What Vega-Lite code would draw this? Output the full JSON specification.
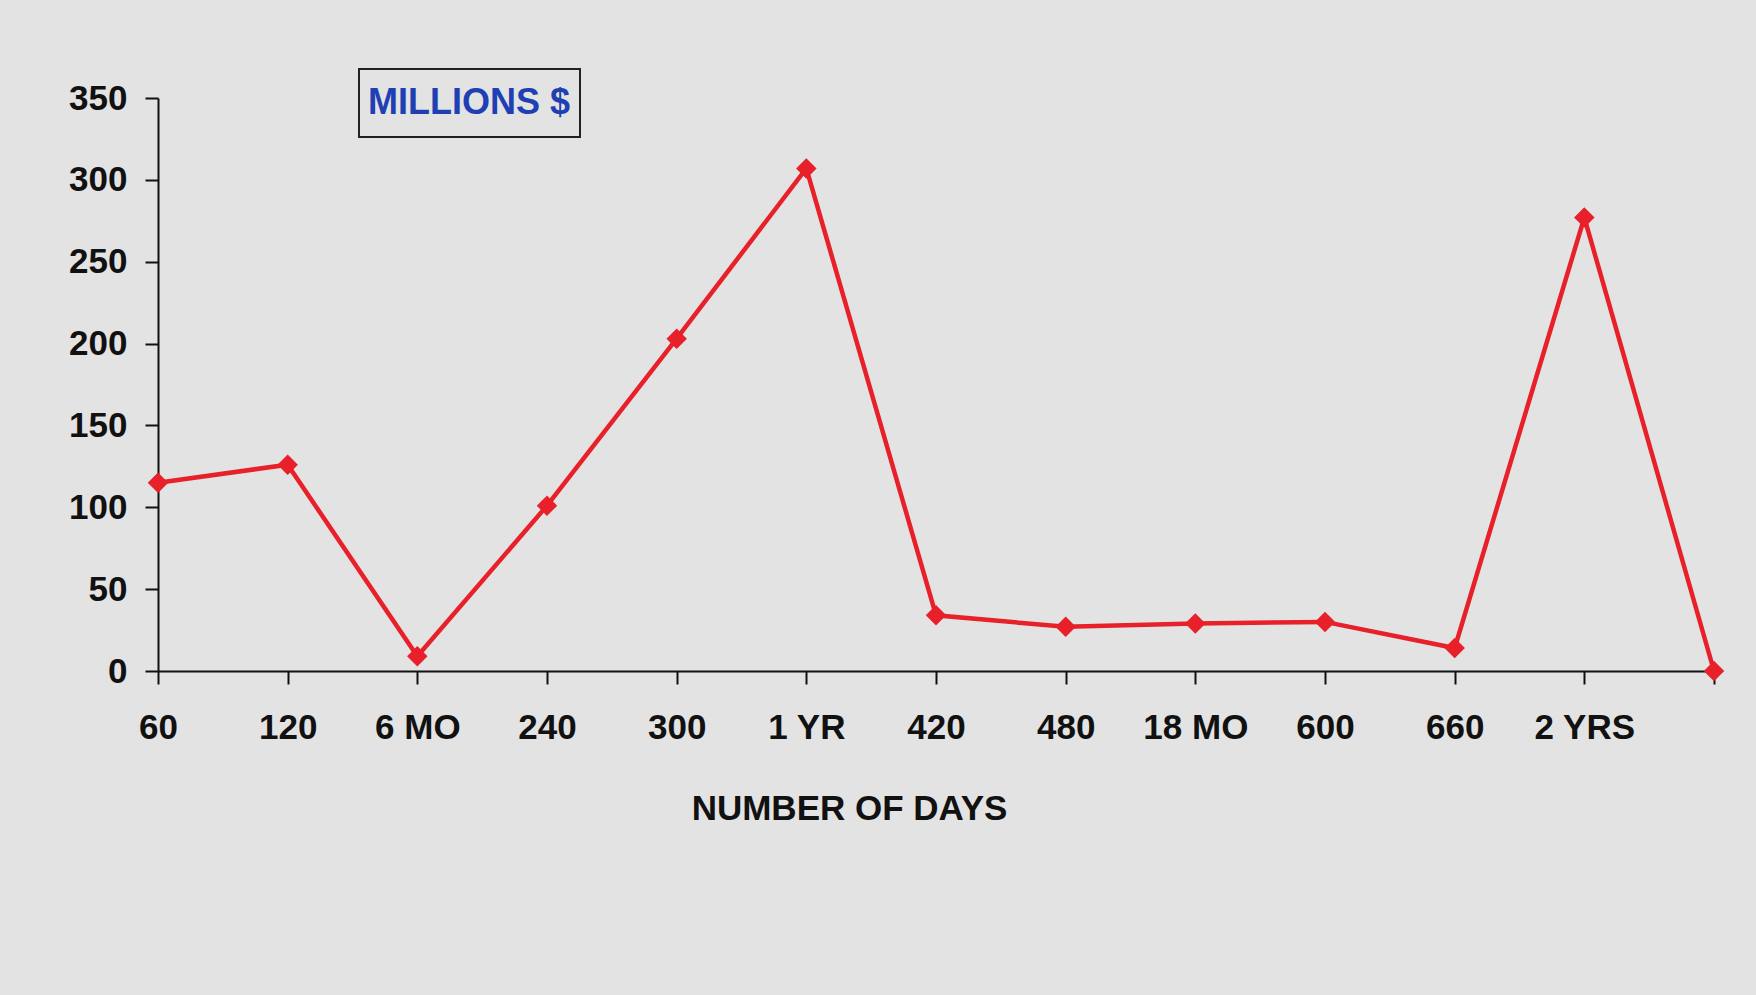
{
  "$schema": "https://vega.github.io/schema/vega-lite/v6.json",
  "autosize": "none",
  "width": 1556,
  "height": 573,
  "padding": {"left": 158, "top": 98, "right": 42, "bottom": 324},
  "background": "#e3e3e3",
  "config": {
    "view": {"stroke": null},
    "font": "Liberation Sans"
  },
  "data": {
    "values": [
      {"label": "60", "value": 115, "series": "MILLIONS $"},
      {"label": "120", "value": 126, "series": "MILLIONS $"},
      {"label": "6 MO", "value": 9, "series": "MILLIONS $"},
      {"label": "240", "value": 101, "series": "MILLIONS $"},
      {"label": "300", "value": 203, "series": "MILLIONS $"},
      {"label": "1 YR", "value": 307, "series": "MILLIONS $"},
      {"label": "420", "value": 34, "series": "MILLIONS $"},
      {"label": "480", "value": 27, "series": "MILLIONS $"},
      {"label": "18 MO", "value": 29, "series": "MILLIONS $"},
      {"label": "600", "value": 30, "series": "MILLIONS $"},
      {"label": "660", "value": 14, "series": "MILLIONS $"},
      {"label": "2 YRS", "value": 277, "series": "MILLIONS $"},
      {"label": "780", "value": 0, "series": "MILLIONS $"}
    ]
  },
  "encoding": {
    "x": {
      "field": "label",
      "type": "nominal",
      "sort": null,
      "scale": {"type": "point", "padding": 0},
      "axis": {
        "title": "NUMBER OF DAYS",
        "labelExpr": "datum.label == '780' ? '' : datum.label",
        "labelAngle": 0,
        "labelFontSize": 35,
        "labelFontWeight": "bold",
        "labelColor": "#111111",
        "labelPadding": 26,
        "labelOverlap": false,
        "tickSize": 13,
        "tickWidth": 2,
        "tickColor": "#111111",
        "domainColor": "#111111",
        "domainWidth": 2,
        "titleFontSize": 35,
        "titleFontWeight": "bold",
        "titleColor": "#111111",
        "titleX": 691,
        "titleY": 120,
        "titleBaseline": "top",
        "titleAlign": "center"
      }
    },
    "y": {
      "field": "value",
      "type": "quantitative",
      "scale": {"domain": [0, 350], "nice": false},
      "axis": {
        "title": null,
        "values": [0, 50, 100, 150, 200, 250, 300, 350],
        "grid": false,
        "labelFontSize": 35,
        "labelFontWeight": "bold",
        "labelColor": "#111111",
        "labelPadding": 18,
        "tickSize": 13,
        "tickWidth": 2,
        "tickColor": "#111111",
        "domainColor": "#111111",
        "domainWidth": 2
      }
    },
    "color": {
      "field": "series",
      "type": "nominal",
      "scale": {"range": ["#e8202a"]},
      "legend": {
        "title": null,
        "orient": "none",
        "legendX": 201,
        "legendY": -29,
        "symbolType": "circle",
        "symbolSize": 2500,
        "symbolOpacity": 0,
        "symbolStrokeWidth": 0,
        "labelOffset": -50,
        "labelFontSize": 36,
        "labelFontWeight": "bold",
        "labelColor": "#1f3fb4",
        "labelLimit": 400,
        "padding": 9,
        "strokeColor": "#222222",
        "encode": {"legend": {"update": {"strokeWidth": {"value": 2}}}}
      }
    }
  },
  "layer": [
    {"mark": {"type": "line", "strokeWidth": 4.5}},
    {"mark": {"type": "point", "shape": "diamond", "filled": true, "size": 420, "opacity": 1}}
  ]
}
